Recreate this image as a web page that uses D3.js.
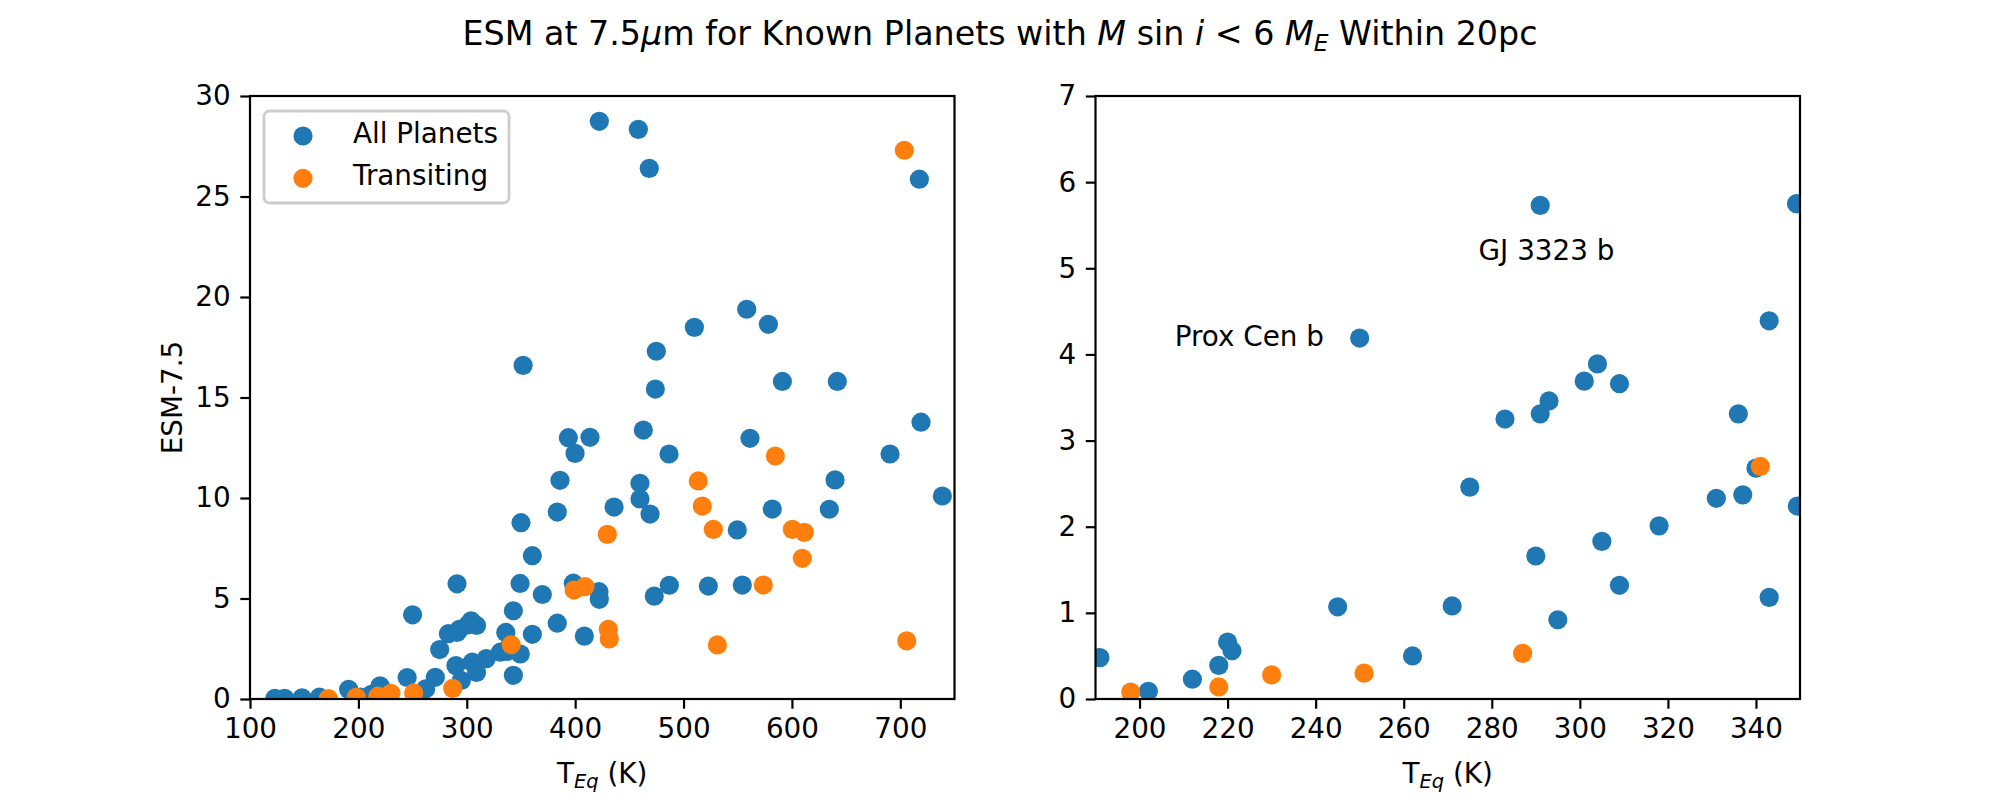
<!DOCTYPE html>
<html>
<head>
<meta charset="utf-8">
<script src="https://cdn.jsdelivr.net/npm/d3@7"></script>
<style>
  body { margin: 0; background: #fff; }
  svg { font-family: "DejaVu Sans", sans-serif; }
</style>
</head>
<body>
<div id="chart"></div>
<script>
// all planets (blue): equilibrium temperature (K) and ESM at 7.5um
var allTeq = [123, 132, 148, 164, 191, 202, 212, 218, 220, 221, 245, 250, 262, 271, 275, 283,
  290, 291, 291, 293, 295, 301, 304, 305, 309, 309, 318, 331, 336, 337, 340, 343, 343,
  349.2, 349.4, 350, 352, 360.5, 360.5, 369.7, 383.5, 383.5, 386, 393.7, 399.9, 398.3,
  408.5, 413.7, 422, 422.3, 422.3, 435.9, 458.3, 459.8, 459.8, 462.9, 468.4, 469.1, 473,
  474, 474.9, 486.6, 486.9, 510, 522.9, 549.6, 554.2, 558.3, 561.3, 578.3, 581.9, 591.2,
  634.5, 639.8, 641.9, 690.5, 717.6, 719.1, 738.8];
var allEsm = [0.03, 0.03, 0.06, 0.09, 0.48, 0.09, 0.23, 0.39, 0.66, 0.56, 1.07, 4.19, 0.50, 1.08, 2.46, 3.25,
  1.66, 3.31, 5.73, 3.46, 0.92, 3.69, 3.89, 1.83, 3.66, 1.32, 2.01, 2.33, 3.31, 2.37, 2.68, 4.39, 1.18,
  5.75, 2.24, 8.77, 16.6, 7.13, 3.22, 5.2, 3.77, 9.3, 10.88, 13.0, 12.22, 5.76,
  3.13, 13.02, 5.34, 4.96, 28.74, 9.55, 28.34, 10.73, 9.95, 13.38, 26.4, 9.2, 5.12,
  15.42, 17.3, 12.19, 5.66, 18.49, 5.62, 8.41, 5.67, 19.39, 12.97, 18.64, 9.45, 15.8,
  9.44, 10.9, 15.8, 12.19, 25.86, 13.77, 10.1];

// transiting planets (orange)
var trTeq = [172.3, 198, 218, 230, 251, 287, 341, 399, 409, 429.7, 430.6, 431.5, 513.6, 517.3,
  527.5, 531.2, 573.6, 584.7, 600.4, 609.6, 611.4, 703.7, 705.9];
var trEsm = [0.02, 0.08, 0.14, 0.28, 0.30, 0.53, 2.70, 5.42, 5.59, 8.19, 3.47, 2.99, 10.85, 9.6,
  8.44, 2.69, 5.67, 12.09, 8.44, 7.0, 8.29, 27.3, 2.89];

// labels on the zoomed panel
var noteText = ["Prox Cen b", "GJ 3323 b"];
var noteTeq = [208, 277];
var noteEsm = [4.1, 5.1];

var leftXTicks = [100, 200, 300, 400, 500, 600, 700];
var leftYTicks = [0, 5, 10, 15, 20, 25, 30];
var rightXTicks = [200, 220, 240, 260, 280, 300, 320, 340];
var rightYTicks = [0, 1, 2, 3, 4, 5, 6, 7];

var blue = "#1f77b4";
var orange = "#ff7f0e";
var fontSize = 27.8;
var r = 9.6;
var plotTop = 96, plotBottom = 699;

var svg = d3.select("#chart")
  .append("svg")
  .attr("width", 2000)
  .attr("height", 800);

var allPts = allTeq.map(function(t, i) { return {t: t, e: allEsm[i]}; });
var trPts = trTeq.map(function(t, i) { return {t: t, e: trEsm[i]}; });

function panel(id, x0, x1, xDom, yDom, xTicks, yTicks) {
  var x = d3.scaleLinear().domain(xDom).range([x0, x1]);
  var y = d3.scaleLinear().domain(yDom).range([plotBottom, plotTop]);

  svg.append("clipPath").attr("id", id)
    .append("rect")
    .attr("x", x0).attr("y", plotTop)
    .attr("width", x1 - x0).attr("height", plotBottom - plotTop);

  var g = svg.append("g").attr("clip-path", "url(#" + id + ")");

  g.selectAll("circle.all")
    .data(allPts)
    .enter()
    .append("circle")
    .attr("cx", function(d) { return x(d.t); })
    .attr("cy", function(d) { return y(d.e); })
    .attr("r", r)
    .attr("fill", blue);

  g.selectAll("circle.tr")
    .data(trPts)
    .enter()
    .append("circle")
    .attr("cx", function(d) { return x(d.t); })
    .attr("cy", function(d) { return y(d.e); })
    .attr("r", r)
    .attr("fill", orange);

  var xa = svg.append("g")
    .attr("transform", "translate(0," + plotBottom + ")")
    .call(d3.axisBottom(x).tickValues(xTicks).tickFormat(d3.format("d"))
      .tickSizeOuter(0).tickSize(9.7).tickPadding(9.7));
  var ya = svg.append("g")
    .attr("transform", "translate(" + x0 + ",0)")
    .call(d3.axisLeft(y).tickValues(yTicks).tickFormat(d3.format("d"))
      .tickSizeOuter(0).tickSize(9.7).tickPadding(9.7));

  [xa, ya].forEach(function(a) {
    a.select(".domain").remove();
    a.selectAll("line").attr("stroke", "#000").attr("stroke-width", 2.2);
    a.selectAll("text")
      .attr("font-size", fontSize)
      .attr("font-family", "DejaVu Sans")
      .attr("fill", "#000");
  });

  svg.append("rect")
    .attr("x", x0).attr("y", plotTop)
    .attr("width", x1 - x0).attr("height", plotBottom - plotTop)
    .attr("fill", "none")
    .attr("stroke", "#000")
    .attr("stroke-width", 2.2);

  // x label: T_Eq (K)
  var xl = svg.append("text")
    .attr("x", (x0 + x1) / 2)
    .attr("y", 783)
    .attr("text-anchor", "middle")
    .attr("font-size", fontSize);
  xl.append("tspan").text("T");
  xl.append("tspan").attr("font-style", "italic").attr("font-size", fontSize * 0.7)
    .attr("dy", 5).text("Eq");
  xl.append("tspan").attr("dy", -5).text(" (K)");

  return {x: x, y: y};
}

var L = panel("clipL", 250, 954.5, [100, 750], [0, 30], leftXTicks, leftYTicks);
var R = panel("clipR", 1095.5, 1800, [190, 350], [0, 7], rightXTicks, rightYTicks);

// y label on the left panel
svg.append("text")
  .attr("transform", "translate(182," + (plotTop + plotBottom) / 2 + ") rotate(-90)")
  .attr("text-anchor", "middle")
  .attr("font-size", fontSize)
  .text("ESM-7.5");

// annotations
svg.selectAll("text.note")
  .data(noteText)
  .enter()
  .append("text")
  .attr("x", function(d, i) { return R.x(noteTeq[i]); })
  .attr("y", function(d, i) { return R.y(noteEsm[i]); })
  .attr("font-size", fontSize)
  .text(function(d) { return d; });

// legend
var lg = svg.append("g").attr("transform", "translate(264,111)");
lg.append("rect")
  .attr("width", 245).attr("height", 92)
  .attr("rx", 5.5)
  .attr("fill", "#fff").attr("fill-opacity", 0.8)
  .attr("stroke", "#cccccc").attr("stroke-width", 2.78);
var legNames = ["All Planets", "Transiting"];
var legColors = [blue, orange];
legNames.forEach(function(name, i) {
  lg.append("circle")
    .attr("cx", 39).attr("cy", 25 + i * 42.3)
    .attr("r", r).attr("fill", legColors[i]);
  lg.append("text")
    .attr("x", 89).attr("y", 31.7 + i * 42.3)
    .attr("font-size", fontSize)
    .text(name);
});

// title
var t = svg.append("text")
  .attr("x", 1000).attr("y", 45)
  .attr("text-anchor", "middle")
  .attr("font-size", 33.3);
t.append("tspan").text("ESM at 7.5");
t.append("tspan").attr("font-style", "italic").text("\u03bc");
t.append("tspan").text("m for Known Planets with ");
t.append("tspan").attr("font-style", "italic").text("M");
t.append("tspan").text(" sin ");
t.append("tspan").attr("font-style", "italic").text("i");
t.append("tspan").text(" < 6 ");
t.append("tspan").attr("font-style", "italic").text("M");
t.append("tspan").attr("font-style", "italic").attr("font-size", 33.3 * 0.7).attr("dy", 6).text("E");
t.append("tspan").attr("dy", -6).text(" Within 20pc");
</script>
</body>
</html>
